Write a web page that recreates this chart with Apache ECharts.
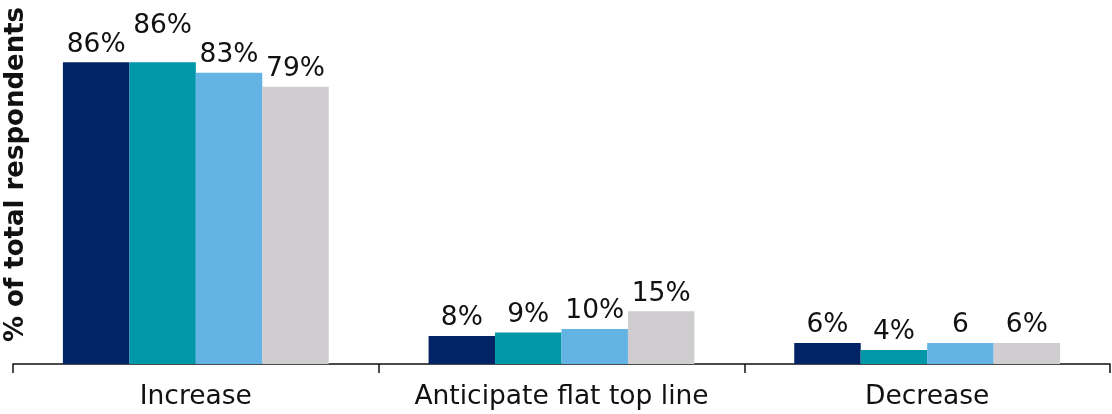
<!DOCTYPE html>
<html>
<head>
<meta charset="utf-8">
<script src="https://cdn.jsdelivr.net/npm/echarts@6/dist/echarts.min.js"></script>
<style>
  html, body { margin: 0; padding: 0; background: #ffffff; }
  #chart { width: 1112px; height: 414px; }
</style>
</head>
<body>
<div id="chart"></div>
<script>
// Survey outcome categories
const categories = ['Increase', 'Anticipate flat top line', 'Decrease'];

// Share of respondents per group (%)
const seriesA = [86, 8, 6];
const seriesB = [86, 9, 4];
const seriesC = [83, 10, 6];
const seriesD = [79, 15, 6];

// Printed labels for each group
const labelsA = ['86%', '8%', '6%'];
const labelsB = ['86%', '9%', '4%'];
const labelsC = ['83%', '10%', '6'];
const labelsD = ['79%', '15%', '6%'];

const yTitle = '% of total respondents';

const colors = ['#022366', '#0097a8', '#63b4e4', '#cfcdcf'];
const allValues = [seriesA, seriesB, seriesC, seriesD];
const allLabels = [labelsA, labelsB, labelsC, labelsD];

const FONT = 'DejaVu Sans';

const series = allValues.map((vals, si) => ({
  type: 'bar',
  barGap: '0%',
  barCategoryGap: '27.3%',
  itemStyle: { color: colors[si] },
  data: vals.map((v, ci) => {
    const item = { value: v };
    // lift the second "Increase" label so it clears its neighbour
    if (si === 1 && ci === 0) item.label = { offset: [0, -19] };
    return item;
  }),
  label: {
    show: true,
    position: 'top',
    distance: 4,
    color: '#111111',
    fontFamily: FONT,
    fontSize: 26.5,
    formatter: p => allLabels[si][p.dataIndex]
  }
}));

const chart = echarts.init(document.getElementById('chart'));
chart.setOption({
  animation: false,
  grid: { left: 13, right: 2, top: 13, bottom: 50, containLabel: false, outerBoundsMode: 'none' },
  xAxis: {
    type: 'category',
    data: categories,
    axisLine: { show: true, lineStyle: { color: '#111111', width: 1.5 } },
    axisTick: { show: true, length: 9, lineStyle: { color: '#111111', width: 1.5 } },
    axisLabel: { interval: 0, color: '#111111', fontFamily: FONT, fontSize: 26.5, margin: 20 }
  },
  yAxis: {
    type: 'value',
    min: 0,
    max: 100,
    axisLine: { show: false },
    axisTick: { show: false },
    axisLabel: { show: false },
    splitLine: { show: false },
    name: yTitle,
    nameLocation: 'middle',
    nameGap: -16,
    nameTextStyle: {
      color: '#111111', fontFamily: FONT, fontSize: 26, fontWeight: 'bold',
      padding: [0, 0, 0, 28]
    }
  },
  series: series
});
</script>
</body>
</html>
